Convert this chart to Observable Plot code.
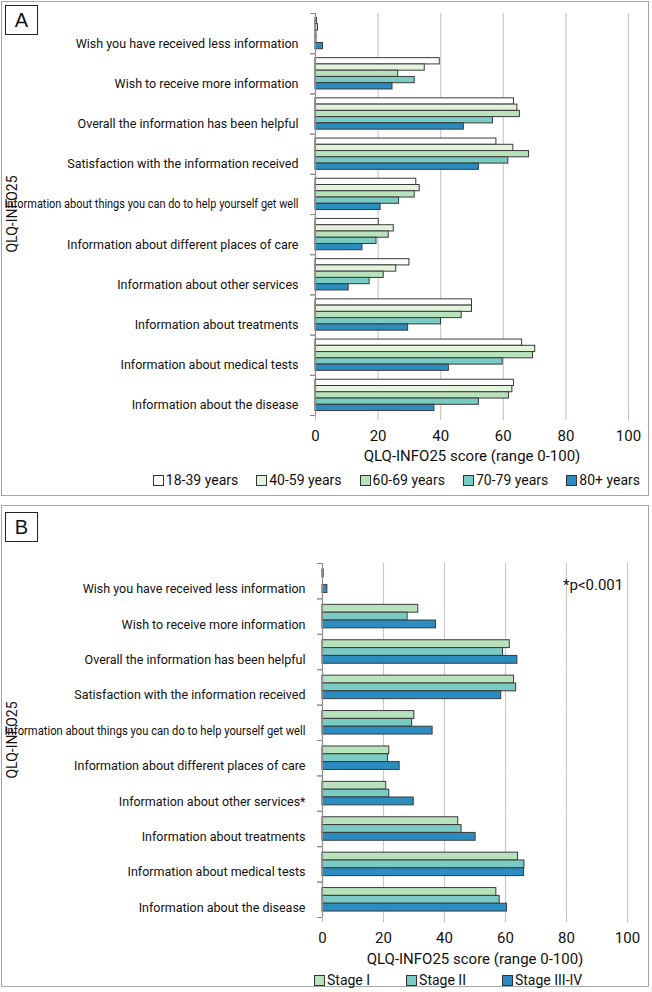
<!DOCTYPE html>
<html>
<head>
<meta charset="utf-8">
<script src="https://cdn.jsdelivr.net/npm/d3@7"></script>
<script src="https://cdn.jsdelivr.net/npm/@observablehq/plot@0.6"></script>
<style>
  html, body { margin: 0; padding: 0; background: #fff; }
  #page { position: relative; width: 652px; height: 992px; overflow: hidden; font-family: Roboto, "Liberation Sans", sans-serif; color: #111; }
  .panel { position: absolute; left: 1px; width: 648px; border: 1px solid #a6a6a6; box-sizing: border-box; }
  .tag { position: absolute; width: 33px; height: 30px; border: 1px solid #222; box-sizing: border-box; font-family: "Liberation Sans", Arial, sans-serif; font-size: 20px; line-height: 28px; text-align: center; background: #fff; }
  .plot { position: absolute; left: 0; }
  .ytitle { position: absolute; font-size: 14px; transform: translate(-50%, -50%) rotate(-90deg); white-space: nowrap; }
  .legend { position: absolute; font-size: 14px; display: flex; white-space: nowrap; }
  .legend .item { display: flex; align-items: center; }
  .legend .sw { width: 9px; height: 9px; border: 1px solid #333; margin-right: 2px; }
  .note { position: absolute; font-size: 15px; }
</style>
</head>
<body>
<div id="page">
  <div class="panel" style="top:1px;height:495px;"></div>
  <div class="panel" style="top:505px;height:482px;"></div>
  <div class="tag" style="left:5px;top:5px;">A</div>
  <div class="tag" style="left:5px;top:512px;">B</div>
  <div id="plotA" class="plot" style="top:0px;"></div>
  <div id="plotB" class="plot" style="top:505px;"></div>
  <div class="ytitle" style="left:12px;top:214px;">QLQ-INFO25</div>
  <div class="ytitle" style="left:12px;top:740px;">QLQ-INFO25</div>
  <div id="legendA" class="legend" style="right:12px;top:472px;"></div>
  <div id="legendB" class="legend" style="left:314px;top:972px;"></div>
  <div class="note" style="left:563px;top:576px;">*p&lt;0.001</div>
</div>
<script>
// ---- Data ----
const categoriesA = [
  "Wish you have received less information",
  "Wish to receive more information",
  "Overall the information has been helpful",
  "Satisfaction with the information received",
  "Information about things you can do to help yourself get well",
  "Information about different places of care",
  "Information about other services",
  "Information about treatments",
  "Information about medical tests",
  "Information about the disease"
];
const categoriesB = [
  "Wish you have received less information",
  "Wish to receive more information",
  "Overall the information has been helpful",
  "Satisfaction with the information received",
  "Information about things you can do to help yourself get well",
  "Information about different places of care",
  "Information about other services*",
  "Information about treatments",
  "Information about medical tests",
  "Information about the disease"
];
const ageGroups = ["18-39 years", "40-59 years", "60-69 years", "70-79 years", "80+ years"];
const age18_39 = [0.5, 39.7, 63.4, 57.8, 32.2, 20.2, 30.0, 50.0, 66.0, 63.4];
const age40_59 = [0.8, 34.9, 64.5, 63.2, 33.3, 25.0, 25.8, 50.0, 70.2, 62.9];
const age60_69 = [0.3, 26.4, 65.3, 68.2, 31.7, 23.4, 21.8, 46.7, 69.5, 61.8];
const age70_79 = [0.3, 31.7, 56.7, 61.6, 26.7, 19.5, 17.3, 40.1, 59.8, 52.2];
const age80plus = [2.4, 24.6, 47.4, 52.2, 20.8, 15.0, 10.6, 29.6, 42.6, 38.0];
const ageColors = ["#ffffff", "#e3f3dc", "#b7e2bc", "#7acbc3", "#2b8cc0"];

const stageGroups = ["Stage I", "Stage II", "Stage III-IV"];
const stageI = [0.4, 31.4, 61.4, 62.8, 30.1, 21.9, 20.9, 44.5, 64.1, 57.0];
const stageII = [0.0, 27.9, 59.2, 63.5, 29.4, 21.5, 21.9, 45.6, 66.2, 58.1];
const stageIII_IV = [1.6, 37.2, 63.9, 58.6, 36.1, 25.3, 29.9, 50.2, 66.1, 60.5];
const stageColors = ["#b7e2bc", "#7acbc3", "#2b8cc0"];

const xTicks = [0, 20, 40, 60, 80, 100];
const xTitle = "QLQ-INFO25 score (range 0-100)";

function table(categories, groups, seriesList) {
  const rows = [];
  categories.forEach((c, i) => groups.forEach((g, j) => rows.push({category: c, group: g, value: seriesList[j][i]})));
  return rows;
}

function panel({categories, groups, colors, series, height, marginLeft, marginRight, marginTop, marginBottom, paddingOuter, labelDy, labelOffset}) {
  const width = 652;
  const plotW = width - marginLeft - marginRight;
  const data = table(categories, groups, series);
  return Plot.plot({
    width, height, marginLeft, marginRight, marginTop, marginBottom,
    style: {fontFamily: "Roboto, 'Liberation Sans', sans-serif", fontSize: "12px", color: "#111", background: "transparent", overflow: "visible"},
    x: {domain: [0, 100], ticks: xTicks},
    fy: {domain: categories, padding: 0, round: false},
    y: {domain: groups, paddingInner: 0, paddingOuter, round: false, axis: null},
    color: {domain: groups, range: colors},
    marks: [
      Plot.gridX({ticks: xTicks.slice(1), stroke: "#c9c9c9", strokeOpacity: 1, strokeWidth: 1.2}),
      Plot.barX(data, {fy: "category", y: "group", x: "value", fill: "group", stroke: "#3a3a3a", strokeWidth: 1}),
      Plot.ruleX([0], {stroke: "#8c8c8c", strokeWidth: 1.2}),
      Plot.frame({anchor: "top", stroke: "#8c8c8c", insetLeft: -5, insetRight: plotW}),
      Plot.frame({anchor: "bottom", stroke: "#8c8c8c", insetLeft: -5, insetRight: plotW}),
      Plot.axisFy({anchor: "left", tickSize: 0, tickPadding: 17, dy: labelDy, label: null, fontSize: 12.5, textAnchor: "end"}),
      Plot.axisX({anchor: "bottom", ticks: xTicks, tickSize: 5, tickPadding: 10, stroke: "#bbb",
        label: xTitle, labelAnchor: "center", labelArrow: "none", labelOffset, fontSize: 15})
    ]
  });
}

function fitLabels(svg, avail) {
  svg.querySelectorAll('g[aria-label="fy-axis tick label"] text').forEach(t => {
    const w = t.getComputedTextLength();
    if (w > avail) {
      t.setAttribute("textLength", avail);
      t.setAttribute("lengthAdjust", "spacingAndGlyphs");
    }
  });
}

const svgA = panel({
  categories: categoriesA, groups: ageGroups, colors: ageColors,
  series: [age18_39, age40_59, age60_69, age70_79, age80plus],
  height: 470, marginLeft: 315, marginRight: 24, marginTop: 13, marginBottom: 55,
  paddingOuter: 0.71, labelDy: 10, labelOffset: 45
});
document.getElementById("plotA").appendChild(svgA);
fitLabels(svgA, 315 - 17 - 4);

const svgB = panel({
  categories: categoriesB, groups: stageGroups, colors: stageColors,
  series: [stageI, stageII, stageIII_IV],
  height: 470, marginLeft: 322, marginRight: 25, marginTop: 58, marginBottom: 58,
  paddingOuter: 0.76, labelDy: 8, labelOffset: 46
});
document.getElementById("plotB").appendChild(svgB);
fitLabels(svgB, 322 - 17 - 4);

function legend(id, groups, colors, gap) {
  const el = document.getElementById(id);
  groups.forEach((g, i) => {
    const item = document.createElement("div");
    item.className = "item";
    if (i < groups.length - 1) item.style.marginRight = gap + "px";
    const sw = document.createElement("span");
    sw.className = "sw";
    sw.style.background = colors[i];
    const t = document.createElement("span");
    t.textContent = g;
    item.appendChild(sw); item.appendChild(t);
    el.appendChild(item);
  });
}
legend("legendA", ageGroups, ageColors, 18);
legend("legendB", stageGroups, stageColors, 36);
</script>
</body>
</html>
